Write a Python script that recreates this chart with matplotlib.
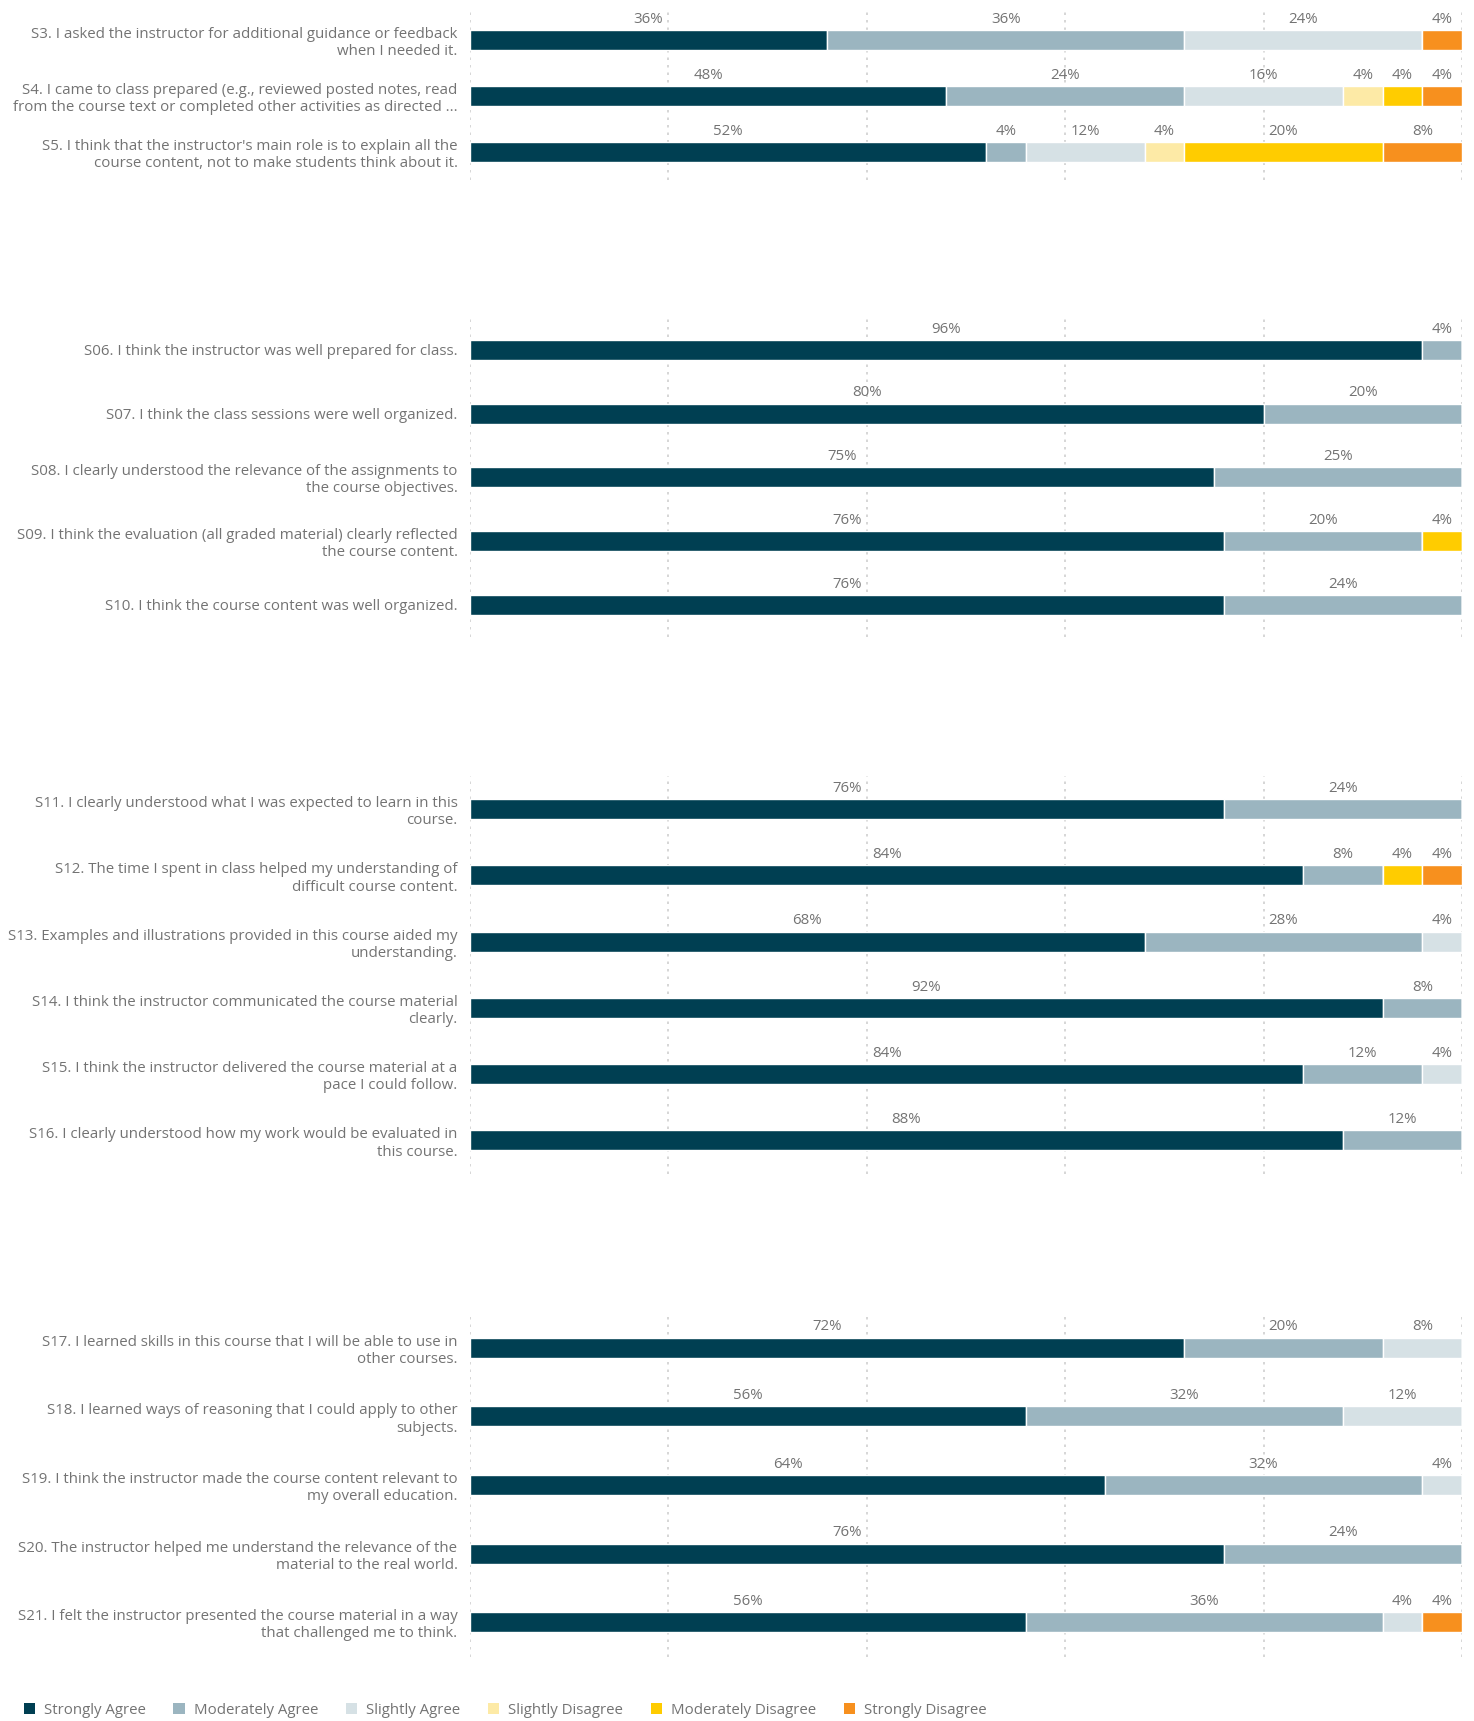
import matplotlib
matplotlib.use("Agg")
import matplotlib.pyplot as plt
import numpy as np
from matplotlib.patches import Patch

plt.rcParams['font.family'] = ['Open Sans', 'DejaVu Sans']

categories = ['Strongly Agree', 'Moderately Agree', 'Slightly Agree',
              'Slightly Disagree', 'Moderately Disagree', 'Strongly Disagree']
colors = ['#003f52', '#9bb5c0', '#d6e1e5', '#fdeaa6', '#ffcc00', '#f7901e']

# panel 1
labels1 = ["S3. I asked the instructor for additional guidance or feedback\nwhen I needed it.",
           "S4. I came to class prepared (e.g., reviewed posted notes, read\nfrom the course text or completed other activities as directed ...",
           "S5. I think that the instructor's main role is to explain all the\ncourse content, not to make students think about it."]
values1 = [[36, 36, 24, 0, 0, 4],
           [48, 24, 16, 4, 4, 4],
           [52, 4, 12, 4, 20, 8]]

# panel 2
labels2 = ["S06. I think the instructor was well prepared for class.",
           "S07. I think the class sessions were well organized.",
           "S08. I clearly understood the relevance of the assignments to\nthe course objectives.",
           "S09. I think the evaluation (all graded material) clearly reflected\nthe course content.",
           "S10. I think the course content was well organized."]
values2 = [[96, 4, 0, 0, 0, 0],
           [80, 20, 0, 0, 0, 0],
           [75, 25, 0, 0, 0, 0],
           [76, 20, 0, 0, 4, 0],
           [76, 24, 0, 0, 0, 0]]

# panel 3
labels3 = ["S11. I clearly understood what I was expected to learn in this\ncourse.",
           "S12. The time I spent in class helped my understanding of\ndifficult course content.",
           "S13. Examples and illustrations provided in this course aided my\nunderstanding.",
           "S14. I think the instructor communicated the course material\nclearly.",
           "S15. I think the instructor delivered the course material at a\npace I could follow.",
           "S16. I clearly understood how my work would be evaluated in\nthis course."]
values3 = [[76, 24, 0, 0, 0, 0],
           [84, 8, 0, 0, 4, 4],
           [68, 28, 4, 0, 0, 0],
           [92, 8, 0, 0, 0, 0],
           [84, 12, 4, 0, 0, 0],
           [88, 12, 0, 0, 0, 0]]

# panel 4
labels4 = ["S17. I learned skills in this course that I will be able to use in\nother courses.",
           "S18. I learned ways of reasoning that I could apply to other\nsubjects.",
           "S19. I think the instructor made the course content relevant to\nmy overall education.",
           "S20. The instructor helped me understand the relevance of the\nmaterial to the real world.",
           "S21. I felt the instructor presented the course material in a way\nthat challenged me to think."]
values4 = [[72, 20, 8, 0, 0, 0],
           [56, 32, 12, 0, 0, 0],
           [64, 32, 4, 0, 0, 0],
           [76, 24, 0, 0, 0, 0],
           [56, 36, 4, 0, 0, 4]]

W, H = 1474, 1721
fig = plt.figure(figsize=(W / 100, H / 100), dpi=100)
txt = '#737373'
grid_c = '#d0d0d0'
fs = 10.8

def panel(top, bottom, labels, values):
    x0, x1 = 470, 1462
    ax = fig.add_axes([x0 / W, 1 - bottom / H, (x1 - x0) / W, (bottom - top) / H])
    n = len(labels)
    spacing = (bottom - top) / n
    bh = 20 / spacing
    vals = np.array(values, dtype=float)
    y = np.arange(n)
    left = np.zeros(n)
    for j in range(vals.shape[1]):
        ax.barh(y, vals[:, j], left=left, height=bh, color=colors[j],
                edgecolor='white', linewidth=1.0, zorder=3)
        for i in range(n):
            if vals[i, j] > 0:
                ax.text(left[i] + vals[i, j] / 2, y[i] - bh / 2 - 0.05,
                        f"{int(vals[i, j])}%", ha='center', va='bottom',
                        fontsize=fs, color=txt)
        left += vals[:, j]
    ax.set_xlim(0, 100)
    ax.set_ylim(n - 0.5, -0.5)
    ax.set_yticks(y)
    ax.set_yticklabels(labels, fontsize=fs, color=txt, linespacing=1.2)
    ax.tick_params(axis='y', length=0, pad=9)
    ax.set_xticks([0, 20, 40, 60, 80, 100])
    ax.tick_params(axis='x', length=0, labelbottom=False)
    ax.grid(axis='x', color=grid_c, linestyle=(0, (1.5, 3)), linewidth=1.2, zorder=0)
    for s in ax.spines.values():
        s.set_visible(False)
    ax.patch.set_alpha(0)
    return ax

panel(11.5, 179.5, labels1, values1)
panel(318, 636.6, labels2, values2)
panel(776, 1173.6, labels3, values3)
panel(1313.5, 1656.6, labels4, values4)

handles = [Patch(facecolor=c, edgecolor='none') for c in colors]
fig.legend(handles, categories, loc='center left', bbox_to_anchor=(10 / W, 1 - 1710 / H),
           ncol=6, frameon=False, fontsize=fs, labelcolor=txt,
           handlelength=0.75, handleheight=0.75, handletextpad=0.6, columnspacing=1.85)

fig.savefig('out.png', dpi=100)
